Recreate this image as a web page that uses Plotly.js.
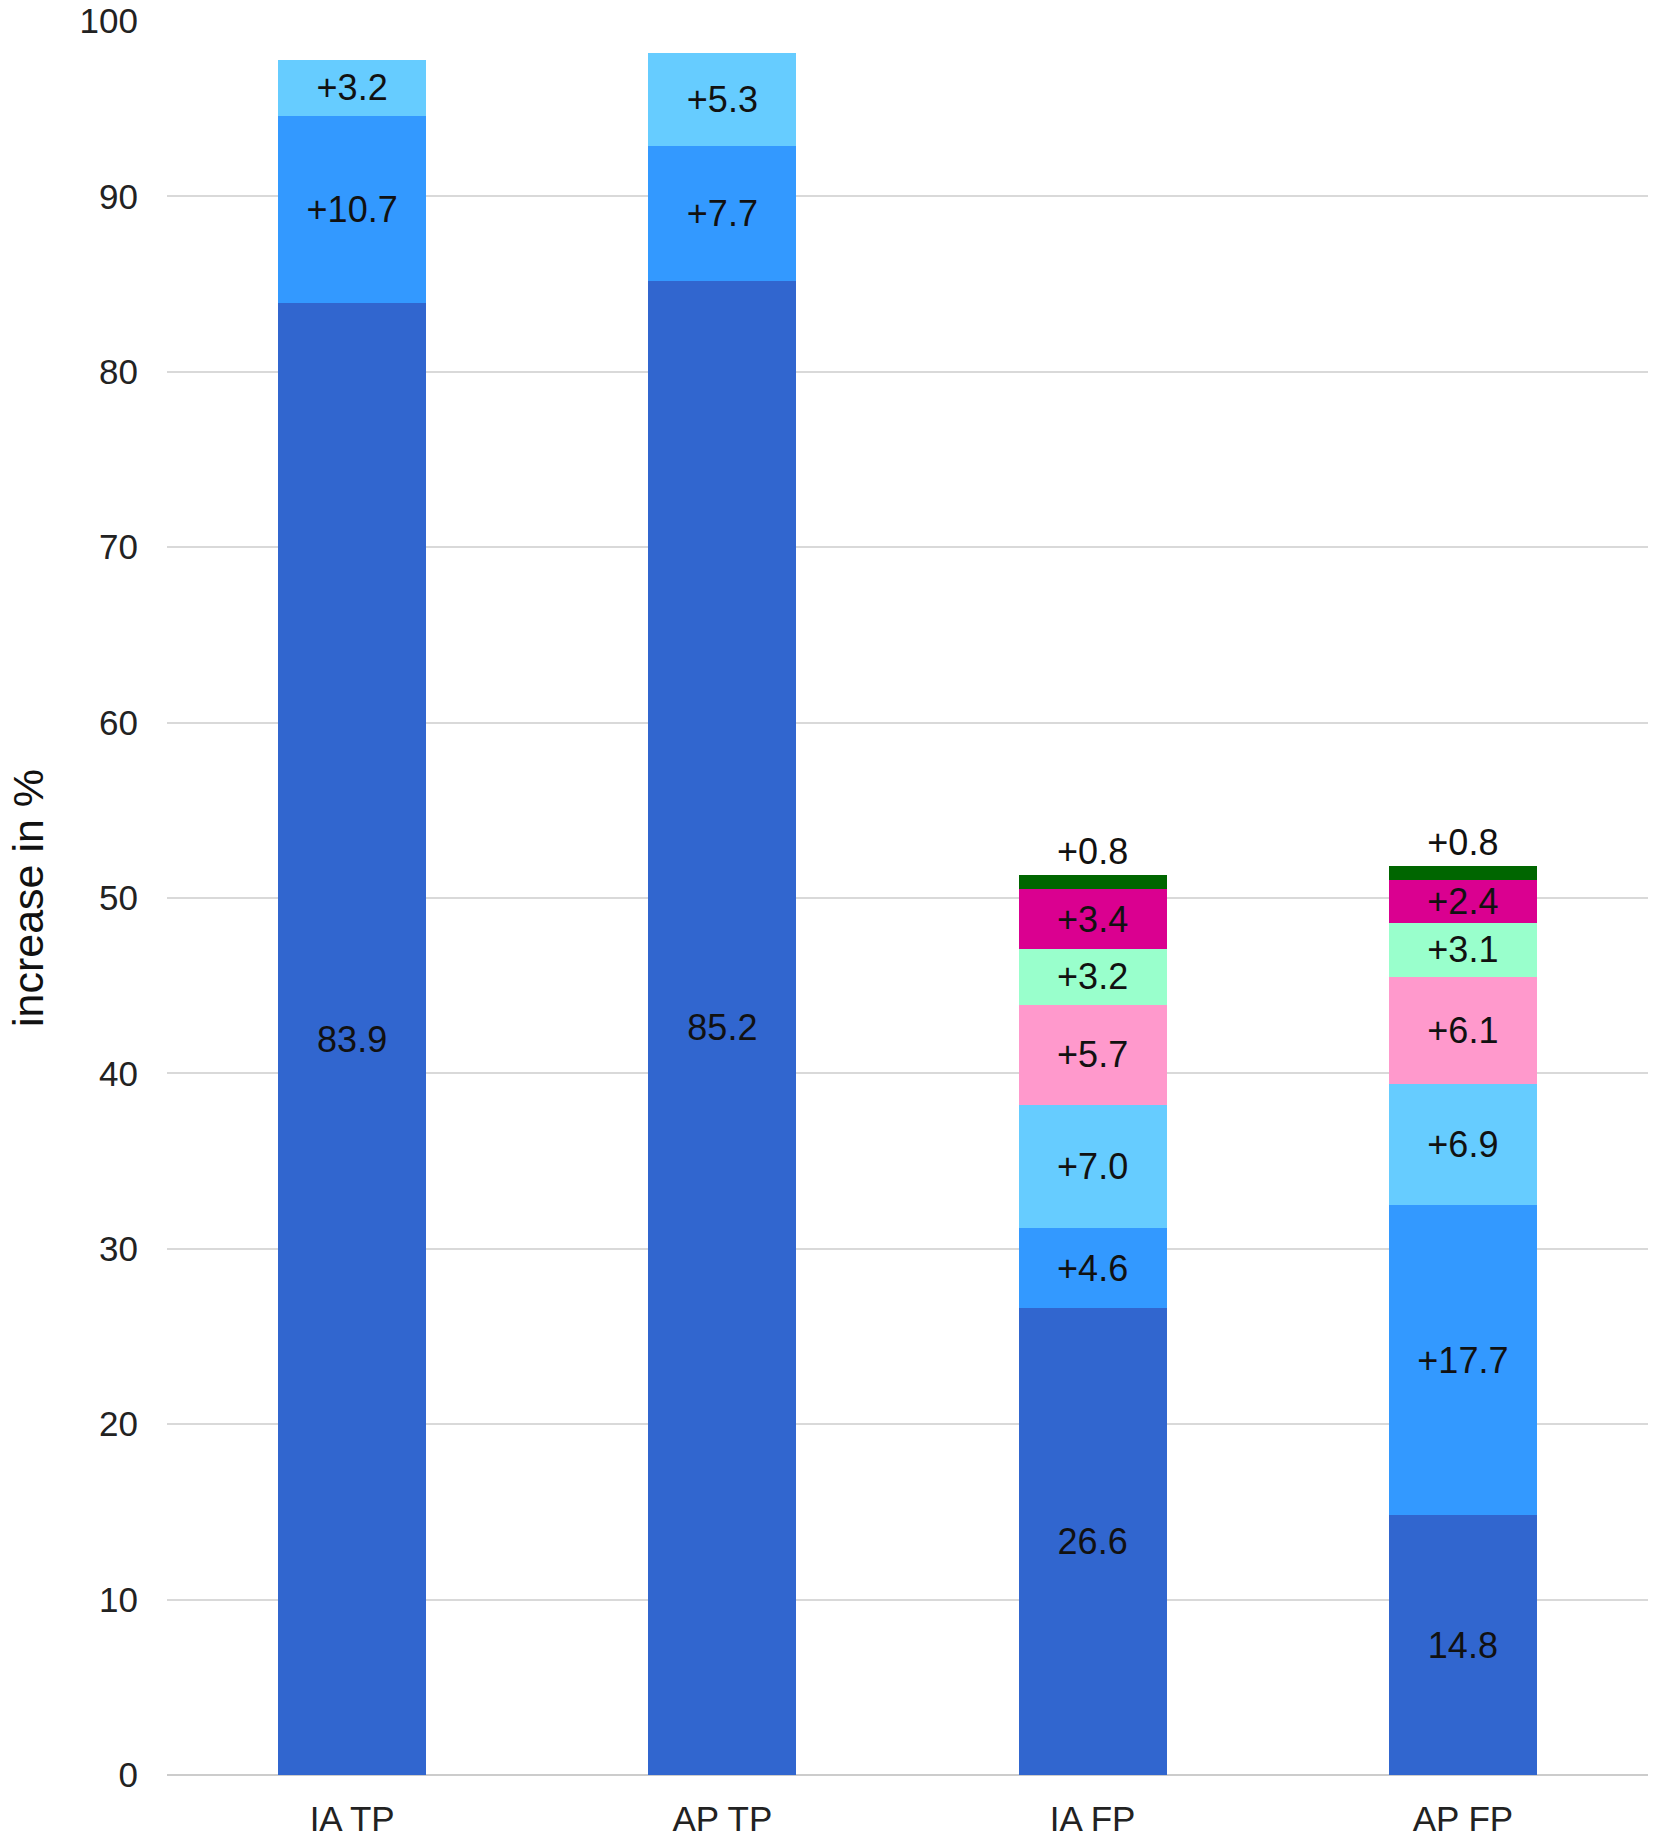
<!DOCTYPE html>
<html>
<head>
<meta charset="utf-8">
<script src="https://cdn.plot.ly/plotly-3.0.1.min.js"></script>
<style>
  body { margin: 0; background: #fff; }
  #chart { width: 1654px; height: 1838px; }
</style>
</head>
<body>
<div id="chart"></div>
<script>
// categories on the x axis
var categories = ['IA TP', 'AP TP', 'IA FP', 'AP FP'];

// stacked segments, bottom to top
var base  = [83.9, 85.2, 26.6, 14.8];
var step1 = [10.7, 7.7, 4.6, 17.7];
var step2 = [3.2, 5.3, 7.0, 6.9];
var step3 = [null, null, 5.7, 6.1];
var step4 = [null, null, 3.2, 3.1];
var step5 = [null, null, 3.4, 2.4];
var step6 = [null, null, 0.8, 0.8];

var yTicks = [0, 10, 20, 30, 40, 50, 60, 70, 80, 90, 100];

var font = '"Liberation Sans", Arial, sans-serif';

function label(vals, plus) {
    return vals.map(function (v) {
        if (v === null) return '';
        return (plus ? '+' : '') + v.toFixed(1);
    });
}

function seg(vals, color, plus, pos) {
    return {
        type: 'bar',
        x: categories,
        y: vals,
        text: label(vals, plus),
        textposition: pos || 'inside',
        insidetextanchor: 'middle',
        textangle: 0,
        constraintext: 'none',
        cliponaxis: false,
        textfont: { family: font, size: 36, color: '#111' },
        marker: { color: color, line: { width: 0 } },
        hoverinfo: 'none'
    };
}

var data = [
    seg(base, '#3166CF', false),
    seg(step1, '#3399FF', true),
    seg(step2, '#66CCFF', true),
    seg(step3, '#FF99CC', true),
    seg(step4, '#99FFCC', true),
    seg(step5, '#DA0090', true),
    seg(step6, '#006600', true, 'outside')
];

var layout = {
    width: 1654,
    height: 1838,
    barmode: 'stack',
    bargap: 0.6,
    showlegend: false,
    paper_bgcolor: '#fff',
    plot_bgcolor: '#fff',
    margin: { l: 167, r: 6, t: 21, b: 63 },
    font: { family: font, size: 35, color: '#222' },
    xaxis: {
        type: 'category',
        showgrid: false,
        showline: false,
        ticks: '',
        ticklabelstandoff: 20,
        tickfont: { family: font, size: 35, color: '#222' }
    },
    yaxis: {
        range: [0, 100],
        tickvals: yTicks,
        ticktext: yTicks.map(String),
        showgrid: true,
        gridcolor: '#d9d9d9',
        gridwidth: 2,
        zeroline: true,
        zerolinecolor: '#cccccc',
        zerolinewidth: 2,
        showline: false,
        ticks: '',
        ticklabelstandoff: 28,
        tickfont: { family: font, size: 35, color: '#222' },
        title: {
            text: 'increase in %',
            standoff: 22,
            font: { family: font, size: 43, color: '#111' }
        }
    }
};

Plotly.newPlot('chart', data, layout, { staticPlot: true });
</script>
</body>
</html>
